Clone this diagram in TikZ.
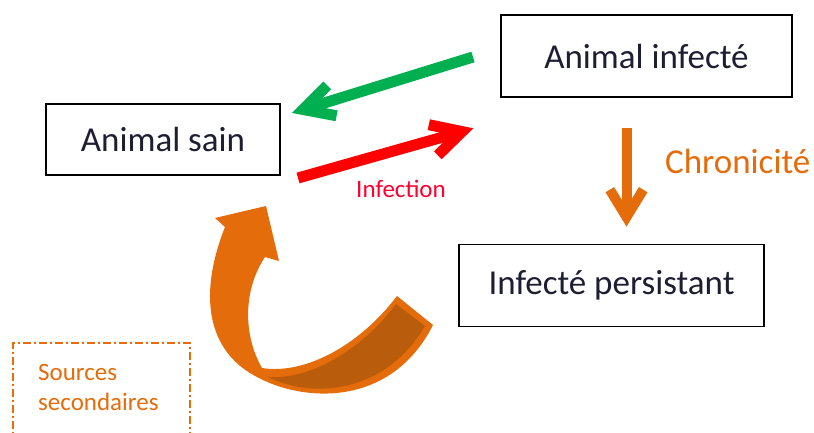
\documentclass[tikz,border=0pt]{standalone}
\usepackage{fontspec}
\setmainfont{Carlito}
\definecolor{orng}{HTML}{E46C0A}
\definecolor{orngdark}{HTML}{B95C0B}
\definecolor{grn}{HTML}{00B050}
\definecolor{rd}{HTML}{FF0000}
\definecolor{rdtxt}{HTML}{FF0030}
\definecolor{txt}{HTML}{1E1E32}
\begin{document}
\begin{tikzpicture}[x=1pt,y=-1pt,
  box/.style={draw=black, line width=1.4pt, text=txt, inner sep=0pt,
    font=\fontsize{35}{40}\selectfont},
  shaft/.style={line width=11pt},
  barb/.style={line width=11pt, line join=miter, line cap=butt},
  lbl/.style={inner sep=0pt, anchor=base west}]
\useasboundingbox (0,0) rectangle (814,432);

% boxes
\node[box, minimum width=291pt, minimum height=82pt] (inf) at (646.5,56) {Animal infecté};
\node[box, minimum width=234pt, minimum height=71pt] (sain) at (163,139.5) {Animal sain};
\node[box, minimum width=305pt, minimum height=82pt] (pers) at (611.5,285.5) {Infecté persistant};

% green arrow (infecte -> sain)
\coordinate (gS) at (473,57);
\coordinate (gT) at (303.2,109.5);
\coordinate (gA) at (327.2,85.4);
\coordinate (gB) at (336.6,115.8);
\draw[grn, shaft] (gS) -- (gT);
\draw[grn, barb] (gA) -- (gT) -- (gB);

% red arrow (sain -> infecte)
\coordinate (rS) at (298,178);
\coordinate (rT) at (462.1,131.6);
\coordinate (rA) at (428.8,124.7);
\coordinate (rB) at (437.8,155.3);
\draw[rd, shaft] (rS) -- (rT);
\draw[rd, barb] (rA) -- (rT) -- (rB);
\node[lbl, text=rdtxt, font=\fontsize{25}{28}\selectfont] (infection) at (356,197) {Infection};

% orange down arrow (chronicite)
\coordinate (oS) at (626.5,128);
\coordinate (oT) at (626.5,217);
\coordinate (oA) at (609.8,189.7);
\coordinate (oB) at (643.2,189.7);
\draw[orng, shaft, line width=10pt] (oS) -- (oT);
\draw[orng, barb, line width=10pt] (oA) -- (oT) -- (oB);
\node[lbl, text=orng, font=\fontsize{35}{40}\selectfont] (chron) at (665,173) {Chronicité};

% curved ribbon arrow: full silhouette
\fill[orng] (265,257) -- (279,261) -- (266,206) -- (215,218) -- (225,227)
  .. controls (200,290) and (205,345) .. (250,373)
  .. controls (298,403) and (390,410) .. (433,325)
  -- (397,296)
  .. controls (360,345) and (305,375) .. (262,368)
  .. controls (243,335) and (243,290) .. (265,257) -- cycle;
% darker underside of the ribbon
\fill[orngdark] (268,377) .. controls (310,380) and (362,350) .. (396,304)
  -- (425,326) .. controls (386,392) and (315,400) .. (268,377) -- cycle;

% secondary sources dashed box
\draw[orng, line width=1.5pt, dash pattern=on 8pt off 3pt on 2pt off 3pt]
  (13,445) -- (13,343) -- (190,343) -- (190,445);
\node[lbl, text=orng, font=\fontsize{25}{30}\selectfont] (src1) at (38,380) {Sources};
\node[lbl, text=orng, font=\fontsize{25}{30}\selectfont] (src2) at (38,410) {secondaires};
\end{tikzpicture}
\end{document}
